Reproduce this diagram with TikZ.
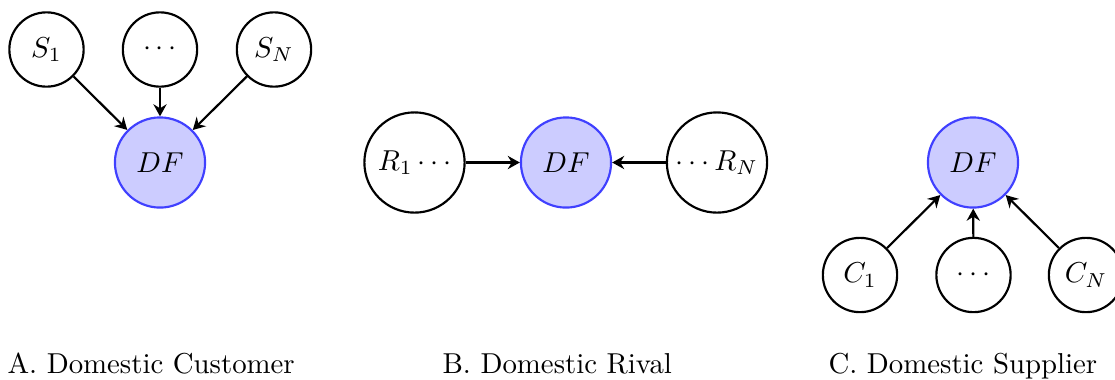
\documentclass[tikz,border=0pt]{standalone}
\usetikzlibrary{arrows.meta}
\begin{document}
\begin{tikzpicture}[x=0.3472pt,y=-0.3472pt,
  agent/.style={circle,draw=black,line width=0.75pt,minimum size=25.8pt,inner sep=0pt},
  bigagent/.style={circle,draw=black,line width=0.75pt,minimum size=34.8pt,inner sep=0pt},
  firm/.style={circle,draw=blue!75,fill=blue!20,line width=0.75pt,minimum size=31.3pt,inner sep=0pt},
  link/.style={line width=0.75pt,-{Stealth[length=4.2pt,width=4.6pt,inset=1.4pt]}},
  captext/.style={anchor=base west,inner sep=0pt}]
\useasboundingbox (0,0) rectangle (1115,379);
% Panel A
\node[agent] (s1) at (46.5,49.5) {$S_1$};
\node[agent] (sd) at (160,49.5) {$\cdots$};
\node[agent] (sn) at (274,49.5) {$S_N$};
\node[firm] (dfa) at (160,162.5) {$DF$};
\draw[link] (s1) -- (dfa);
\draw[link] (sd) -- (dfa);
\draw[link] (sn) -- (dfa);
% Panel B
\node[bigagent] (r1) at (414.5,162.5) {$R_1\cdots$};
\node[firm] (dfb) at (566,162.5) {$DF$};
\node[bigagent] (rn) at (717,162.5) {$\cdots R_N$};
\draw[link] (r1) -- (dfb);
\draw[link] (rn) -- (dfb);
% Panel C
\node[firm] (dfc) at (973,162.5) {$DF$};
\node[agent] (c1) at (860,275) {$C_1$};
\node[agent] (cd) at (973.5,275) {$\cdots$};
\node[agent] (cn) at (1086,275) {$C_N$};
\draw[link] (c1) -- (dfc);
\draw[link] (cd) -- (dfc);
\draw[link] (cn) -- (dfc);
% Captions
\node[captext] (capa) at (7,373) {A. Domestic Customer};
\node[captext] (capb) at (442,373) {B. Domestic Rival};
\node[captext] (capc) at (828,373) {C. Domestic Supplier};
\end{tikzpicture}
\end{document}
